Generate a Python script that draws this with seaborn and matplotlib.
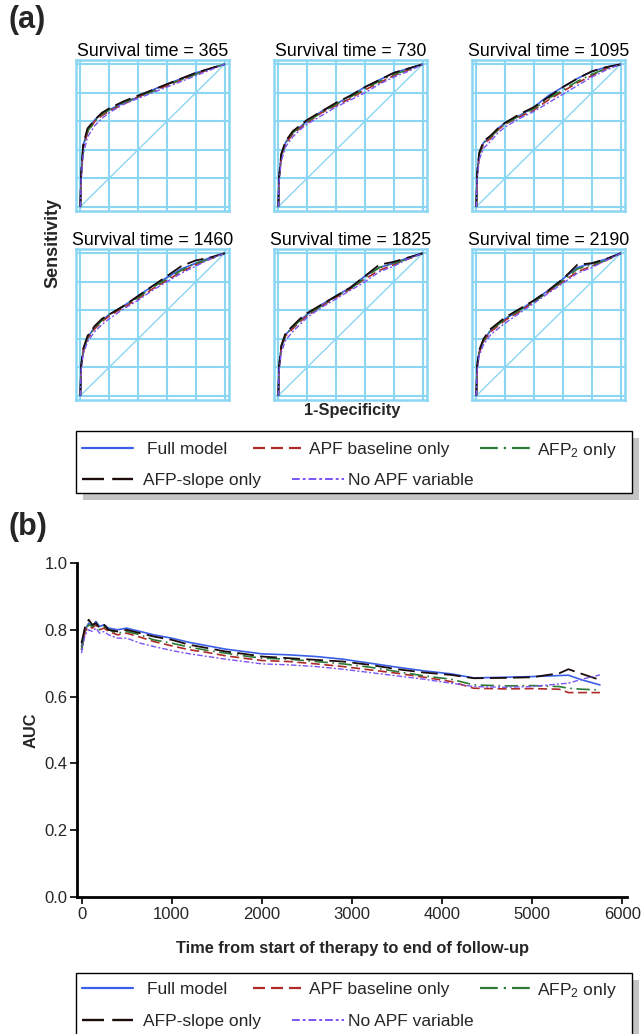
import matplotlib
matplotlib.use("Agg")
import matplotlib.pyplot as plt
import seaborn as sns
from matplotlib.lines import Line2D
from matplotlib.patches import Rectangle

# =====================================================
# Data
# =====================================================

model_names = ["Full model", "APF baseline only", "AFP$_2$ only",
               "AFP-slope only", "No APF variable"]
survival_times = [365, 730, 1095, 1460, 1825, 2190]

# ROC curves: shared 1-specificity points, one sensitivity list per model
# order: full, baseline, afp2, slope, none
fpr_pts = [0, 0.005, 0.02, 0.05, 0.1, 0.15, 0.2, 0.3, 0.4, 0.5, 0.6, 0.7, 0.8, 0.9, 1.0]

tpr_365 = [
    [0, 0.22, 0.43, 0.54, 0.61, 0.655, 0.68, 0.73, 0.77, 0.82, 0.86, 0.90, 0.94, 0.97, 1],
    [0, 0.20, 0.41, 0.52, 0.60, 0.64, 0.67, 0.72, 0.77, 0.81, 0.85, 0.89, 0.93, 0.97, 1],
    [0, 0.21, 0.42, 0.53, 0.60, 0.65, 0.68, 0.73, 0.77, 0.81, 0.86, 0.89, 0.93, 0.97, 1],
    [0, 0.23, 0.44, 0.55, 0.61, 0.66, 0.69, 0.74, 0.78, 0.82, 0.86, 0.90, 0.94, 0.97, 1],
    [0, 0.18, 0.37, 0.49, 0.57, 0.62, 0.66, 0.72, 0.76, 0.80, 0.84, 0.88, 0.92, 0.96, 1],
]
tpr_730 = [
    [0, 0.20, 0.36, 0.45, 0.52, 0.56, 0.60, 0.67, 0.72, 0.78, 0.84, 0.89, 0.94, 0.97, 1],
    [0, 0.19, 0.35, 0.44, 0.51, 0.55, 0.59, 0.66, 0.71, 0.76, 0.82, 0.87, 0.92, 0.96, 1],
    [0, 0.20, 0.36, 0.45, 0.52, 0.56, 0.60, 0.66, 0.72, 0.77, 0.83, 0.88, 0.93, 0.96, 1],
    [0, 0.21, 0.37, 0.46, 0.53, 0.57, 0.61, 0.67, 0.73, 0.78, 0.84, 0.89, 0.94, 0.97, 1],
    [0, 0.17, 0.32, 0.42, 0.49, 0.54, 0.58, 0.64, 0.70, 0.75, 0.80, 0.86, 0.91, 0.95, 1],
]
tpr_1095 = [
    [0, 0.22, 0.37, 0.45, 0.49, 0.55, 0.59, 0.64, 0.70, 0.78, 0.84, 0.90, 0.95, 0.98, 1],
    [0, 0.21, 0.36, 0.44, 0.48, 0.54, 0.58, 0.63, 0.68, 0.75, 0.81, 0.87, 0.92, 0.97, 1],
    [0, 0.22, 0.37, 0.45, 0.49, 0.54, 0.58, 0.64, 0.69, 0.76, 0.82, 0.88, 0.93, 0.97, 1],
    [0, 0.23, 0.38, 0.46, 0.50, 0.55, 0.59, 0.65, 0.70, 0.77, 0.84, 0.90, 0.95, 0.98, 1],
    [0, 0.19, 0.33, 0.41, 0.46, 0.52, 0.56, 0.62, 0.67, 0.73, 0.79, 0.85, 0.91, 0.96, 1],
]
tpr_1460 = [
    [0, 0.20, 0.32, 0.41, 0.48, 0.53, 0.57, 0.63, 0.70, 0.77, 0.83, 0.89, 0.93, 0.97, 1],
    [0, 0.19, 0.31, 0.40, 0.47, 0.52, 0.56, 0.62, 0.68, 0.75, 0.81, 0.87, 0.92, 0.96, 1],
    [0, 0.20, 0.32, 0.41, 0.48, 0.53, 0.57, 0.63, 0.69, 0.76, 0.82, 0.88, 0.93, 0.96, 1],
    [0, 0.21, 0.33, 0.42, 0.49, 0.54, 0.57, 0.63, 0.70, 0.77, 0.84, 0.91, 0.95, 0.97, 1],
    [0, 0.17, 0.29, 0.38, 0.45, 0.50, 0.54, 0.61, 0.67, 0.74, 0.80, 0.86, 0.91, 0.96, 1],
]
tpr_1825 = [
    [0, 0.20, 0.34, 0.43, 0.48, 0.53, 0.57, 0.64, 0.70, 0.76, 0.84, 0.90, 0.93, 0.97, 1],
    [0, 0.19, 0.33, 0.42, 0.47, 0.52, 0.56, 0.63, 0.69, 0.75, 0.82, 0.88, 0.92, 0.96, 1],
    [0, 0.20, 0.34, 0.43, 0.48, 0.53, 0.57, 0.63, 0.70, 0.75, 0.83, 0.90, 0.93, 0.96, 1],
    [0, 0.21, 0.35, 0.44, 0.49, 0.54, 0.58, 0.64, 0.70, 0.76, 0.84, 0.92, 0.94, 0.97, 1],
    [0, 0.17, 0.30, 0.39, 0.45, 0.50, 0.55, 0.62, 0.68, 0.74, 0.80, 0.87, 0.91, 0.96, 1],
]
tpr_2190 = [
    [0, 0.20, 0.31, 0.39, 0.46, 0.50, 0.54, 0.60, 0.67, 0.74, 0.82, 0.90, 0.93, 0.96, 1],
    [0, 0.19, 0.30, 0.38, 0.45, 0.49, 0.53, 0.59, 0.66, 0.73, 0.80, 0.87, 0.91, 0.95, 1],
    [0, 0.20, 0.31, 0.39, 0.46, 0.50, 0.54, 0.60, 0.66, 0.73, 0.81, 0.89, 0.92, 0.95, 1],
    [0, 0.21, 0.32, 0.40, 0.47, 0.51, 0.55, 0.61, 0.67, 0.74, 0.82, 0.92, 0.93, 0.96, 1],
    [0, 0.17, 0.28, 0.36, 0.43, 0.47, 0.51, 0.58, 0.65, 0.72, 0.79, 0.86, 0.90, 0.95, 1],
]
roc_tprs = [tpr_365, tpr_730, tpr_1095, tpr_1460, tpr_1825, tpr_2190]

# AUC over follow-up time
auc_time = [0, 40, 80, 120, 160, 200, 250, 300, 400, 500, 650, 800, 1000, 1200,
            1400, 1600, 1800, 2000, 2300, 2600, 2900, 3200, 3500, 3800, 4100,
            4350, 4700, 5000, 5300, 5400, 5550, 5750]
auc_full = [0.75, 0.80, 0.82, 0.81, 0.825, 0.81, 0.815, 0.805, 0.80, 0.805, 0.795,
            0.785, 0.775, 0.762, 0.752, 0.742, 0.735, 0.728, 0.725, 0.72, 0.712,
            0.70, 0.688, 0.677, 0.668, 0.656, 0.658, 0.66, 0.663, 0.664, 0.65, 0.635]
auc_base = [0.74, 0.795, 0.81, 0.805, 0.815, 0.80, 0.805, 0.795, 0.785, 0.79, 0.778,
            0.765, 0.752, 0.74, 0.732, 0.722, 0.715, 0.708, 0.705, 0.698, 0.69,
            0.68, 0.67, 0.658, 0.645, 0.625, 0.623, 0.624, 0.622, 0.612, 0.612, 0.612]
auc_afp2 = [0.74, 0.80, 0.815, 0.81, 0.82, 0.80, 0.81, 0.80, 0.79, 0.795, 0.785,
            0.77, 0.76, 0.748, 0.738, 0.73, 0.722, 0.715, 0.712, 0.705, 0.698,
            0.688, 0.675, 0.662, 0.652, 0.635, 0.632, 0.633, 0.63, 0.625, 0.622, 0.62]
auc_slope = [0.76, 0.81, 0.83, 0.815, 0.82, 0.805, 0.815, 0.80, 0.795, 0.80, 0.79,
             0.78, 0.77, 0.755, 0.745, 0.735, 0.728, 0.72, 0.715, 0.71, 0.705,
             0.695, 0.682, 0.672, 0.665, 0.655, 0.656, 0.658, 0.67, 0.682, 0.668, 0.65]
auc_none = [0.73, 0.785, 0.80, 0.795, 0.805, 0.79, 0.795, 0.785, 0.775, 0.775, 0.76,
            0.75, 0.738, 0.728, 0.72, 0.712, 0.705, 0.698, 0.695, 0.69, 0.682,
            0.672, 0.662, 0.652, 0.64, 0.63, 0.628, 0.63, 0.638, 0.64, 0.652, 0.665]
auc_series = [auc_full, auc_base, auc_afp2, auc_slope, auc_none]

# =====================================================
# Styles
# =====================================================

line_styles = [
    dict(color="#3a5fe6", linestyle="-", linewidth=1.2),
    dict(color="#b02a2a", linestyle=(0, (5.4, 2.7)), linewidth=1.2),
    dict(color="#2b7a35", linestyle=(0, (8, 2.7, 1, 2.7)), linewidth=1.2),
    dict(color="#1c0c0c", linestyle=(0, (9.3, 3.5)), linewidth=1.3),
    dict(color="#7a55f5", linestyle=(0, (4, 1.5, 1.5, 1.5)), linewidth=1.0),
]
GRID_BLUE = "#8ad6f3"

sns.set_theme(style="white")
plt.rcParams["font.family"] = ["Liberation Sans", "DejaVu Sans"]
plt.rcParams["mathtext.fontset"] = "custom"
plt.rcParams["mathtext.rm"] = "Liberation Sans"
plt.rcParams["mathtext.it"] = "Liberation Sans:italic"

W, H = 643, 1034
fig = plt.figure(figsize=(W / 100, H / 100), dpi=100)


def rect(left, top, width, height):
    return [left / W, 1 - (top + height) / H, width / W, height / H]


def fx(px):
    return px / W


def fy(py):
    return 1 - py / H


# SAS-style legend box: entries placed per row, framed box with grey shadow
# (handle x0, handle x1, text x, row)
legend_slots = {
    0: (82, 133, 147, 0),
    1: (253, 304, 309, 0),
    2: (480, 531, 537, 0),
    3: (82, 133, 143, 1),
    4: (292, 344, 348, 1),
}


def draw_legend(top_px, bottom_px, row_y):
    fig.add_artist(Rectangle((fx(83), fy(bottom_px + 7)), fx(556), (bottom_px - top_px) / H,
                             transform=fig.transFigure, facecolor="#c4c4c4",
                             edgecolor="none", zorder=5))
    fig.add_artist(Rectangle((fx(76), fy(bottom_px)), fx(556), (bottom_px - top_px) / H,
                             transform=fig.transFigure, facecolor="white",
                             edgecolor="black", linewidth=1.0, zorder=6))
    for k, (x0, x1, tx, row) in legend_slots.items():
        y = fy(row_y[row])
        sty = dict(line_styles[k])
        sty["linewidth"] = sty["linewidth"] + 0.4
        fig.add_artist(Line2D([fx(x0), fx(x1)], [y, y], transform=fig.transFigure,
                              zorder=7, **sty))
        fig.text(fx(tx), y, model_names[k], fontsize=12.5, ha="left",
                 va="center_baseline", zorder=7)


# =====================================================
# Panel (a): ROC curves
# =====================================================

col_left = [76, 274, 472]
row_top = [60, 249]
box_w, box_h = 153, 151

for i, st in enumerate(survival_times):
    ax = fig.add_axes(rect(col_left[i % 3], row_top[i // 3], box_w, box_h))
    ax.plot([0, 1], [0, 1], color=GRID_BLUE, linewidth=1.0, zorder=1)
    for tpr, sty in zip(roc_tprs[i], line_styles):
        sns.lineplot(x=fpr_pts, y=tpr, ax=ax, sort=False, estimator=None,
                     zorder=3, **sty)
    ax.set_xlim(-0.03, 1.03)
    ax.set_ylim(-0.03, 1.03)
    ax.set_xticks([0, 0.2, 0.4, 0.6, 0.8, 1.0])
    ax.set_yticks([0, 0.2, 0.4, 0.6, 0.8, 1.0])
    ax.grid(True, color=GRID_BLUE, linewidth=1.5)
    ax.set_axisbelow(True)
    ax.tick_params(length=0, labelbottom=False, labelleft=False)
    for sp in ax.spines.values():
        sp.set_color(GRID_BLUE)
        sp.set_linewidth(1.8)
    ax.set_title(f"Survival time = {st}", fontsize=12.8, pad=3, color="black")

fig.text(fx(8), fy(20), "(a)", fontsize=22, fontweight="bold", va="center")
fig.text(fx(53), fy(243), "Sensitivity", fontsize=13, fontweight="bold",
         rotation=90, ha="center", va="center")
fig.text(fx(352), fy(410), "1-Specificity", fontsize=11.8, fontweight="bold",
         ha="center", va="center")

draw_legend(431, 493, [448, 479])

# =====================================================
# Panel (b): AUC over time
# =====================================================

axb = fig.add_axes(rect(77, 563, 550, 334))
for auc, sty in zip(auc_series, line_styles):
    sns.lineplot(x=auc_time, y=auc, ax=axb, sort=False, estimator=None, **sty)

axb.set_xlim(-50, 6050)
axb.set_ylim(0, 1.0)
axb.set_xticks([0, 1000, 2000, 3000, 4000, 5000, 6000])
axb.set_yticks([0.0, 0.2, 0.4, 0.6, 0.8, 1.0])
axb.set_yticklabels(["0.0", "0.2", "0.4", "0.6", "0.8", "1.0"])
axb.tick_params(axis="both", labelsize=12, length=5, width=1.2,
                color="black", direction="out", pad=2,
                bottom=True, left=True)
for side in ["top", "right"]:
    axb.spines[side].set_visible(False)
for side in ["left", "bottom"]:
    axb.spines[side].set_color("black")
    axb.spines[side].set_linewidth(2.0)
axb.set_xlabel("Time from start of therapy to end of follow-up",
               fontsize=11.8, fontweight="bold", labelpad=14)
axb.set_ylabel("AUC", fontsize=11.8, fontweight="bold", labelpad=4)

fig.text(fx(8), fy(527), "(b)", fontsize=22, fontweight="bold", va="center")

draw_legend(973, 1040, [988, 1020])

fig.savefig("out.png", dpi=100)
